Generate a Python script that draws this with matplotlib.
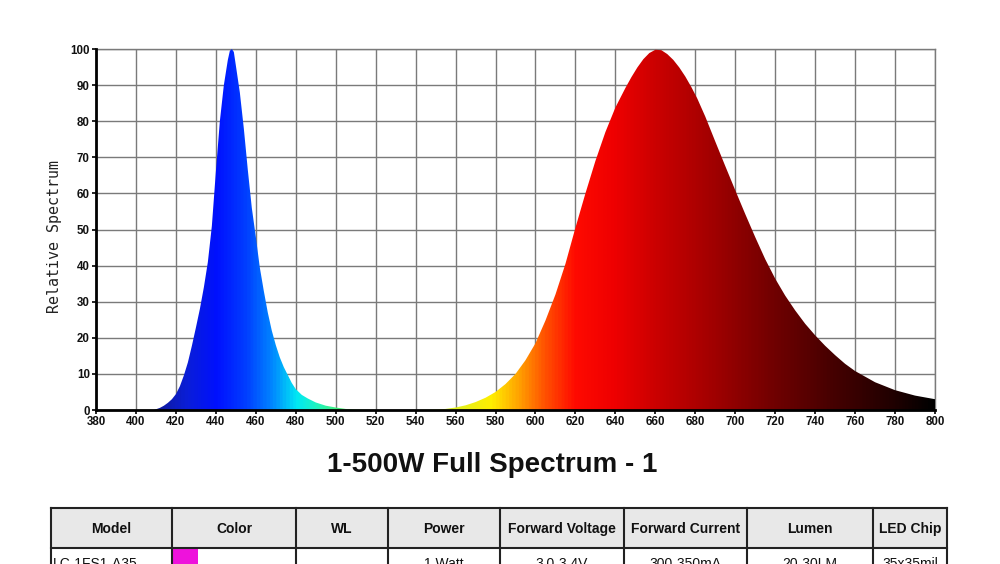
import numpy as np
import matplotlib
matplotlib.use("Agg")
import matplotlib.pyplot as plt
from matplotlib.colors import LinearSegmentedColormap
from matplotlib.patches import Polygon, Rectangle

# === Spectrum data ===
blue_nm = [380, 405, 409, 412, 414, 416, 418, 420, 422, 424, 426, 428, 430, 432,
           434, 436, 438, 440, 442, 444, 446, 447, 448, 449, 450, 452, 454, 456,
           458, 460, 462, 464, 466, 468, 470, 472, 474, 476, 478, 480, 483, 486,
           490, 495, 500, 505, 510, 520]
blue_val = [0, 0, 0, 0.6, 1.2, 2.0, 3.0, 4.4, 6.6, 9.6, 13.2, 17.8, 22.8, 28,
            34, 41, 51, 66, 80, 90, 97, 99.5, 100, 99.2, 95.5, 88, 78, 66.5,
            56, 48, 39.5, 33, 27, 22, 18, 14.6, 11.9, 9.7, 7.5, 5.8, 4.2, 3.2,
            2.1, 1.2, 0.7, 0.3, 0.1, 0]

red_nm = [540, 550, 555, 560, 565, 570, 575, 580, 585, 590, 595, 600, 605, 610,
          615, 620, 625, 630, 635, 640, 645, 648, 651, 654, 657, 660, 663, 666,
          669, 672, 675, 678, 681, 685, 690, 695, 700, 705, 710, 715, 720, 725,
          730, 735, 740, 745, 750, 755, 760, 770, 780, 790, 800]
red_val = [0, 0.1, 0.3, 0.7, 1.3, 2.2, 3.4, 5, 7.2, 10, 13.8, 18.5, 24.8, 32,
           40.5, 50.5, 60, 69, 77, 83.8, 89.2, 92.2, 94.9, 97.2, 98.9, 99.8, 99.7, 98.6,
           97, 94.9, 92.4, 89.5, 86.3, 81.3, 74.4, 67.6, 60.9, 54.3, 47.9, 41.8, 36.4, 31.7,
           27.6, 23.9, 20.7, 17.8, 15.2, 12.8, 10.8, 7.7, 5.5, 4, 3]

x_ticks = list(range(380, 801, 20))
y_ticks = list(range(0, 101, 10))

title = "1-500W Full Spectrum - 1"

# === Table ===
headers = ["Model", "Color", "WL", "Power", "Forward Voltage", "Forward Current",
           "Lumen", "LED Chip"]
row1 = ["LC-1FS1-A35", "", "", "1 Watt", "3.0-3.4V", "300-350mA", "20-30LM",
        "35x35mil"]
col_edges = [51, 172, 296, 388, 500, 624, 747, 873, 947]

# === Wavelength colours ===
wl_stops = [380, 410, 425, 440, 455, 468, 480, 490, 500, 520, 560, 578, 592,
            605, 620, 640, 660, 690, 720, 750, 780, 800]
wl_cols = ['#0a0a80', '#101a9c', '#0a1ed8', '#0010ff', '#0040ff', '#0088ff',
           '#00e8f4', '#20f4c0', '#40f080', '#80f040', '#e0f020', '#ffee00',
           '#ffa000', '#ff5000', '#ff0a00', '#ee0000', '#cc0000', '#a00000',
           '#700000', '#450000', '#200000', '#000000']
pos = [(w - 380) / 420 for w in wl_stops]
cmap = LinearSegmentedColormap.from_list('spec', list(zip(pos, wl_cols)))

fig = plt.figure(figsize=(10, 5.64), dpi=100)
ax = fig.add_axes([0.096, 0.273, 0.839, 0.640])

grad = np.linspace(380, 800, 1200).reshape(1, -1)
for nm, val in [(blue_nm, blue_val), (red_nm, red_val)]:
    pts = list(zip(nm, val)) + [(nm[-1], 0), (nm[0], 0)]
    clip = Polygon(pts, closed=True, transform=ax.transData,
                   facecolor='none', edgecolor='none')
    ax.add_patch(clip)
    im = ax.imshow(grad, extent=[380, 800, 0, 100], aspect='auto', cmap=cmap,
                   vmin=380, vmax=800, origin='lower', zorder=3,
                   interpolation='bilinear')
    im.set_clip_path(clip)

ax.set_xlim(380, 800)
ax.set_ylim(0, 100)
ax.set_xticks(x_ticks)
ax.set_yticks(y_ticks)
ax.grid(True, color='#7a7a7a', linewidth=1.0)
ax.set_axisbelow(True)

for s in ['top', 'right']:
    ax.spines[s].set_color('#7a7a7a')
    ax.spines[s].set_linewidth(1.0)
for s in ['left', 'bottom']:
    ax.spines[s].set_color('black')
    ax.spines[s].set_linewidth(2.0)
    ax.spines[s].set_zorder(5)

ax.tick_params(axis='both', length=3, width=1.2, color='black', pad=1.5)
for lab in ax.get_xticklabels() + ax.get_yticklabels():
    lab.set_fontfamily('Liberation Sans')
    lab.set_fontweight('bold')
    lab.set_fontsize(8.3)
    lab.set_color('#111111')

ax.set_ylabel("Relative Spectrum", fontfamily='DejaVu Sans Mono',
              fontsize=10.8, color='#222222')
ax.yaxis.set_label_coords(-0.041, 0.48)

fig.text(0.492, 1 - 465 / 564, title, ha='center', va='center',
         fontfamily='Liberation Sans', fontweight='bold', fontsize=20,
         color='#111111')

# === Table drawing in pixel space ===
tax = fig.add_axes([0, 0, 1, 1])
tax.set_xlim(0, 1000)
tax.set_ylim(564, 0)
tax.axis('off')

h_top, h_bot, r_bot = 508, 548, 590
tax.add_patch(Rectangle((col_edges[0], h_top), col_edges[-1] - col_edges[0],
                        h_bot - h_top, facecolor='#e8e8e8', edgecolor='none'))
# magenta colour swatch
tax.add_patch(Rectangle((col_edges[1], h_bot), 26, r_bot - h_bot,
                        facecolor='#ee12dc', edgecolor='none'))
for y in [h_top, h_bot]:
    tax.plot([col_edges[0], col_edges[-1]], [y, y], color='#222222', lw=1.5)
for x in col_edges:
    tax.plot([x, x], [h_top, r_bot], color='#222222', lw=1.5)

for i, h in enumerate(headers):
    xc = (col_edges[i] + col_edges[i + 1]) / 2
    tax.text(xc, (h_top + h_bot) / 2 + 1, h, ha='center', va='center',
             fontfamily='Liberation Sans', fontweight='bold', fontsize=10,
             color='#111111')
for i, v in enumerate(row1):
    if not v:
        continue
    if i == 0:
        tax.text(col_edges[0] + 2, 564, v, ha='left', va='center',
                 fontfamily='Liberation Sans', fontsize=10, color='#111111')
    else:
        xc = (col_edges[i] + col_edges[i + 1]) / 2
        tax.text(xc, 564, v, ha='center', va='center',
                 fontfamily='Liberation Sans', fontsize=10, color='#111111')

fig.savefig("out.png", dpi=100)
